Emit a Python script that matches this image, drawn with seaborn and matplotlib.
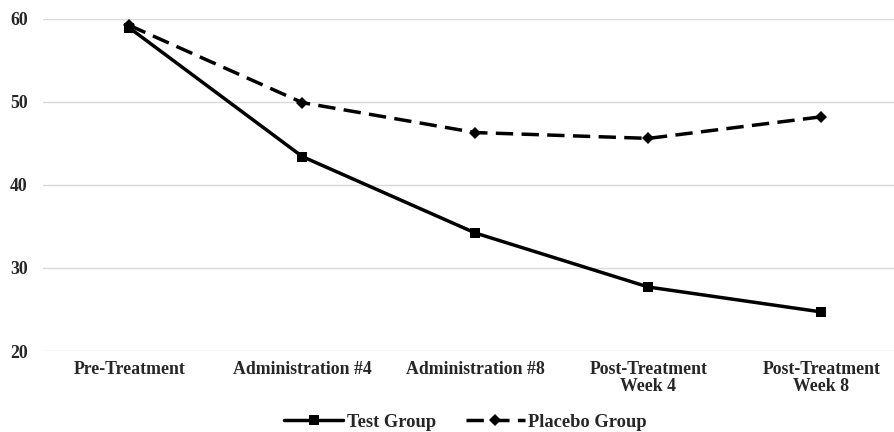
import numpy as np
import pandas as pd
import matplotlib.pyplot as plt
import seaborn as sns

# Datos
timepoints = ["Pre-Treatment", "Administration #4", "Administration #8",
              "Post-Treatment\nWeek 4", "Post-Treatment\nWeek 8"]
test_group = [58.9, 43.4, 34.2, 27.7, 24.7]
placebo_group = [59.2, 49.9, 46.3, 45.6, 48.2]

df = pd.DataFrame({
    "time": timepoints * 2,
    "value": test_group + placebo_group,
    "group": ["Test Group"] * 5 + ["Placebo Group"] * 5,
})

sns.set_style("white")
plt.rcParams["font.family"] = ["Liberation Serif", "DejaVu Serif"]
plt.rcParams["font.weight"] = "bold"

fig = plt.figure(figsize=(8.95, 4.32), dpi=100)
ax = fig.add_axes([0.048, 0.1875, 0.952, 0.769])

sns.lineplot(data=df, x="time", y="value", hue="group", style="group",
             palette={"Test Group": "black", "Placebo Group": "black"},
             markers={"Test Group": "s", "Placebo Group": "D"},
             dashes={"Test Group": "", "Placebo Group": (5, 2.4)},
             linewidth=2.5, markersize=6.5, markeredgewidth=0,
             sort=False, ax=ax)

ax.set_xlim(-0.5, 4.425)
ax.set_ylim(20, 60)
ax.set_yticks([20, 30, 40, 50, 60])
ax.yaxis.grid(True, color="#d9d9d9", linewidth=1)
for s in ax.spines.values():
    s.set_visible(False)
ax.set_xlabel("")
ax.set_ylabel("")
ax.tick_params(axis="both", length=0, labelsize=12.8)
ax.tick_params(axis="y", pad=11)
ax.tick_params(axis="x", pad=7)
for lab in ax.get_xticklabels() + ax.get_yticklabels():
    lab.set_fontweight("bold")
    lab.set_multialignment("center")
    lab.set_linespacing(1.05)

leg = ax.legend(loc="lower center", bbox_to_anchor=(0.496, -0.268), ncol=2,
                frameon=False, fontsize=13.3, handlelength=3.2, columnspacing=1.6,
                handletextpad=0.2, borderpad=0)
for t in leg.get_texts():
    t.set_fontweight("bold")

fig.savefig("out.png", dpi=100)
